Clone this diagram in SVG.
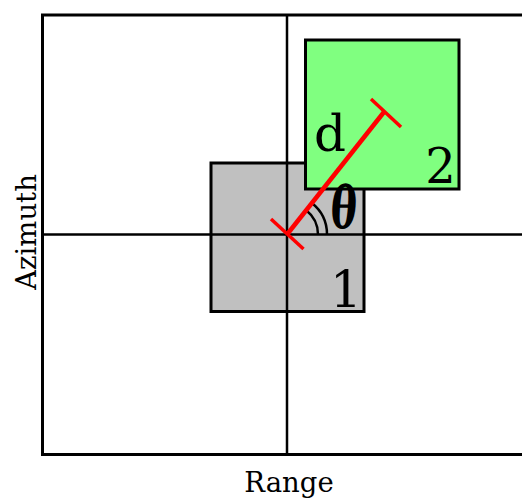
<svg xmlns="http://www.w3.org/2000/svg" width="522" height="503" viewBox="0 0 522 503">
<style>
.ln{stroke:#000;stroke-width:2.5;fill:none}
.box{stroke:#000;stroke-width:3}
.lbl{font-family:"DejaVu Serif",serif;fill:#000;text-anchor:middle}
.red{stroke:#ff0000;fill:none;stroke-linecap:butt}
</style>
<rect width="522" height="503" fill="#fff"/>
<g id="frame">
<rect x="42.5" y="15" width="520" height="439.5" fill="#fff" stroke="#000" stroke-width="3"/>
</g>
<g id="box1">
<rect class="box" x="211" y="163" width="153" height="148.5" fill="#c0c0c0"/>
</g>
<g id="axes">
<line class="ln" x1="287" y1="15" x2="287" y2="454"/>
<line class="ln" x1="42" y1="234.5" x2="522" y2="234.5"/>
</g>
<g id="box2">
<rect class="box" x="305.5" y="40" width="153.5" height="149" fill="#80ff80"/>
</g>
<g id="connectors">
<path class="ln" d="M318,234.5 A31,31 0 0 0 306.2,210.2" stroke-width="2"/>
<path class="ln" d="M327,234.5 A40,40 0 0 0 311.8,203.1" stroke-width="2"/>
<line class="red" x1="287" y1="234.5" x2="384" y2="112" stroke-width="4.5"/>
<line class="red" x1="271" y1="219" x2="303.5" y2="249" stroke-width="3.5"/>
<line class="red" x1="371" y1="99" x2="401" y2="127" stroke-width="3.5"/>
</g>
<g id="labels">
<text class="lbl" x="330" y="151" font-size="50">d</text>
<text class="lbl" x="440.5" y="183" font-size="48">2</text>
<text class="lbl" x="346" y="307" font-size="50">1</text>
<text class="lbl" transform="translate(342.5,227.5) scale(0.68,1) skewX(-6)" font-size="58" font-weight="bold">θ</text>
<text class="lbl" x="289" y="492" font-size="27.5">Range</text>
<text class="lbl" transform="translate(36,232) rotate(-90)" font-size="27.5">Azimuth</text>
</g>
</svg>
